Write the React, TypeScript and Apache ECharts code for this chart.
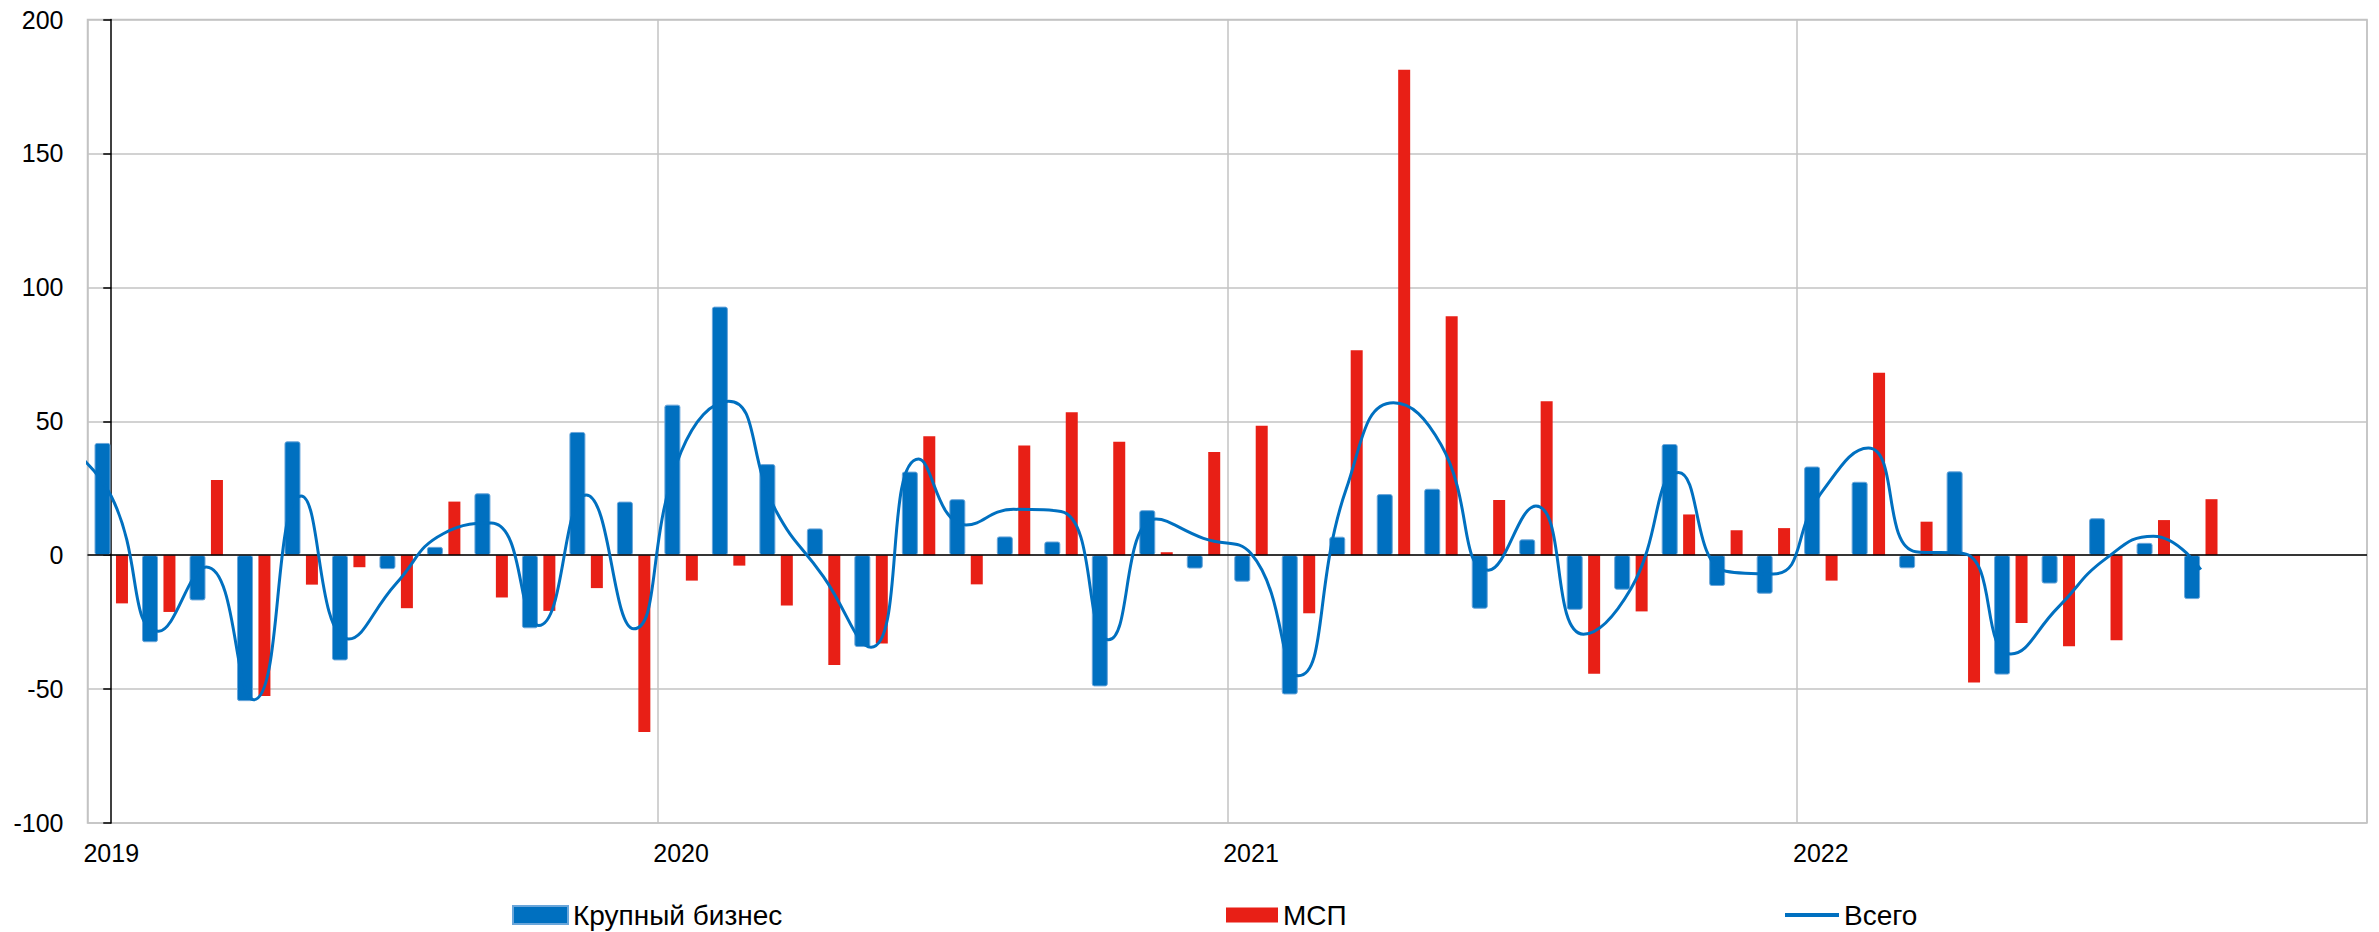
import React, { useEffect, useRef } from "react";
import * as echarts from "echarts";

const YEARS = ["2019", "2020", "2021", "2022"];
const MONTHS = ["01", "02", "03", "04", "05", "06", "07", "08", "09", "10", "11", "12"];
const categories = YEARS.flatMap((y) => MONTHS.map((m) => `${y}-${m}`));

const SERIES_LARGE = "Крупный бизнес";
const SERIES_SME = "МСП";
const SERIES_TOTAL = "Всего";

// Jan 2019 – Sep 2022
const largeBusiness = [
  41.9, -32.5, -16.9, -54.5, 42.5, -39.3, -5.2, 3.1, 23.1, -27.3, 46.0, 20.0,
  56.2, 92.8, 34.0, 10.0, -34.3, 31.2, 20.9, 7.0, 5.1, -49.0, 16.8, -5.0,
  -9.9, -52.0, 6.9, 22.8, 24.8, -20.0, 5.9, -20.4, -12.9, 41.5, -11.5, -14.4,
  33.1, 27.4, -4.9, 31.3, -44.6, -10.6, 13.8, 4.6, -16.4,
];

const sme = [
  -18.0, -21.2, 28.1, -52.6, -11.0, -4.5, -19.8, 20.0, -15.8, -20.8, -12.3, -66.0,
  -9.5, -3.9, -18.8, -41.0, -33.0, 44.4, -10.9, 40.9, 53.4, 42.3, 1.1, 38.5,
  48.3, -21.7, 76.5, 181.2, 89.2, 20.6, 57.5, -44.3, -21.0, 15.2, 9.3, 10.1,
  -9.5, 68.1, 12.5, -47.5, -25.3, -34.0, -31.8, 13.1, 20.9,
];

// value of the total for Dec 2018 (only its entry into the plot is visible)
const totalDec2018 = 42;
// Jan 2019 – Sep 2022
const total = [
  22, -28.4, -4.4, -54, 22.1, -31.3, -10.6, 8.1, 12, -26.3, 22.5, -27.5,
  38.6, 57.5, 16.5, -8.1, -34.4, 35.9, 11.3, 17.1, 16.3, -31.6, 13.5, 6.3,
  0.6, -45, 24.4, 56.9, 41.3, -5.6, 18.4, -29.5, -12.5, 30.9, -6, -7,
  23.1, 40, 1.3, 0.6, -36.9, -19.4, -1.3, 7.1, -5.4,
];

const Y_MIN = -100;
const Y_MAX = 200;
const Y_STEP = 50;

const BLUE = "#0070C0";
const RED = "#E81F16";
const FONT = "'Liberation Sans', Arial, sans-serif";

export default function App() {
  const ref = useRef<HTMLDivElement>(null);

  useEffect(() => {
    if (!ref.current) return;
    const chart = echarts.init(ref.current, undefined, { renderer: "svg" });

    const lineData: [number, number][] = [
      [-1, totalDec2018],
      ...total.map((v, i) => [i, v] as [number, number]),
    ];

    const legendText = { fontSize: 28, fontFamily: FONT, color: "#000" };

    chart.setOption({
      animation: false,
      backgroundColor: "#fff",
      grid: {
        left: 87.5,
        top: 19.5,
        right: 12,
        bottom: 109,
        show: true,
        borderColor: "#c3c3c3",
        borderWidth: 1.5,
      },
      legend: [
        {
          data: [SERIES_LARGE],
          left: 512,
          top: 901,
          padding: 0,
          icon: "rect",
          itemWidth: 55,
          itemHeight: 18,
          textStyle: legendText,
        },
        {
          data: [SERIES_SME],
          left: 1226,
          top: 901,
          padding: 0,
          icon: "rect",
          itemWidth: 52,
          itemHeight: 15,
          textStyle: legendText,
        },
        {
          data: [SERIES_TOTAL],
          left: 1785,
          top: 901,
          padding: 0,
          icon: "rect",
          itemWidth: 54,
          itemHeight: 4,
          textStyle: legendText,
        },
      ],
      xAxis: [
        {
          type: "category",
          data: categories,
          boundaryGap: true,
          axisLine: { show: false },
          axisTick: { show: false },
          axisLabel: {
            interval: (i: number) => i % 12 === 0,
            formatter: (v: string) => v.slice(0, 4),
            fontSize: 25,
            fontFamily: FONT,
            color: "#000",
            margin: 17,
          },
          splitLine: {
            show: true,
            interval: (i: number) => i % 12 === 0,
            lineStyle: { color: "#c3c3c3", width: 1.5 },
          },
        },
        {
          type: "value",
          min: -0.5,
          max: categories.length - 0.5,
          show: false,
          splitLine: { show: false },
        },
      ],
      yAxis: {
        type: "value",
        min: Y_MIN,
        max: Y_MAX,
        interval: Y_STEP,
        axisLine: { show: true, lineStyle: { color: "#000", width: 1.5 } },
        axisTick: { show: true, length: 8, lineStyle: { color: "#000", width: 1.5 } },
        axisLabel: {
          fontSize: 25,
          fontFamily: FONT,
          color: "#000",
          margin: 24,
        },
        splitLine: { show: true, lineStyle: { color: "#c3c3c3", width: 1.5 } },
      },
      series: [
        {
          name: SERIES_LARGE,
          type: "bar",
          data: largeBusiness,
          barWidth: 16,
          barGap: "34%",
          itemStyle: {
            color: BLUE,
            borderColor: "#6aa6da",
            borderWidth: 1,
            borderRadius: 2,
          },
          markLine: {
            silent: true,
            symbol: ["none", "none"],
            label: { show: false },
            lineStyle: { color: "#000", width: 1.5, type: "solid" },
            data: [{ yAxis: 0 }],
            z: 3,
          },
          z: 2,
        },
        {
          name: SERIES_SME,
          type: "bar",
          data: sme,
          barWidth: 12,
          barGap: "34%",
          itemStyle: { color: RED },
          z: 2,
        },
        {
          name: SERIES_TOTAL,
          type: "line",
          xAxisIndex: 1,
          data: lineData,
          smooth: 0.5,
          showSymbol: false,
          symbol: "none",
          clip: true,
          lineStyle: { color: BLUE, width: 3 },
          itemStyle: { color: BLUE },
          z: 5,
        },
      ],
    });

    return () => chart.dispose();
  }, []);

  return (
    <div
      ref={ref}
      style={{ position: "absolute", left: 0, top: 0, width: 2379, height: 932 }}
    />
  );
}
